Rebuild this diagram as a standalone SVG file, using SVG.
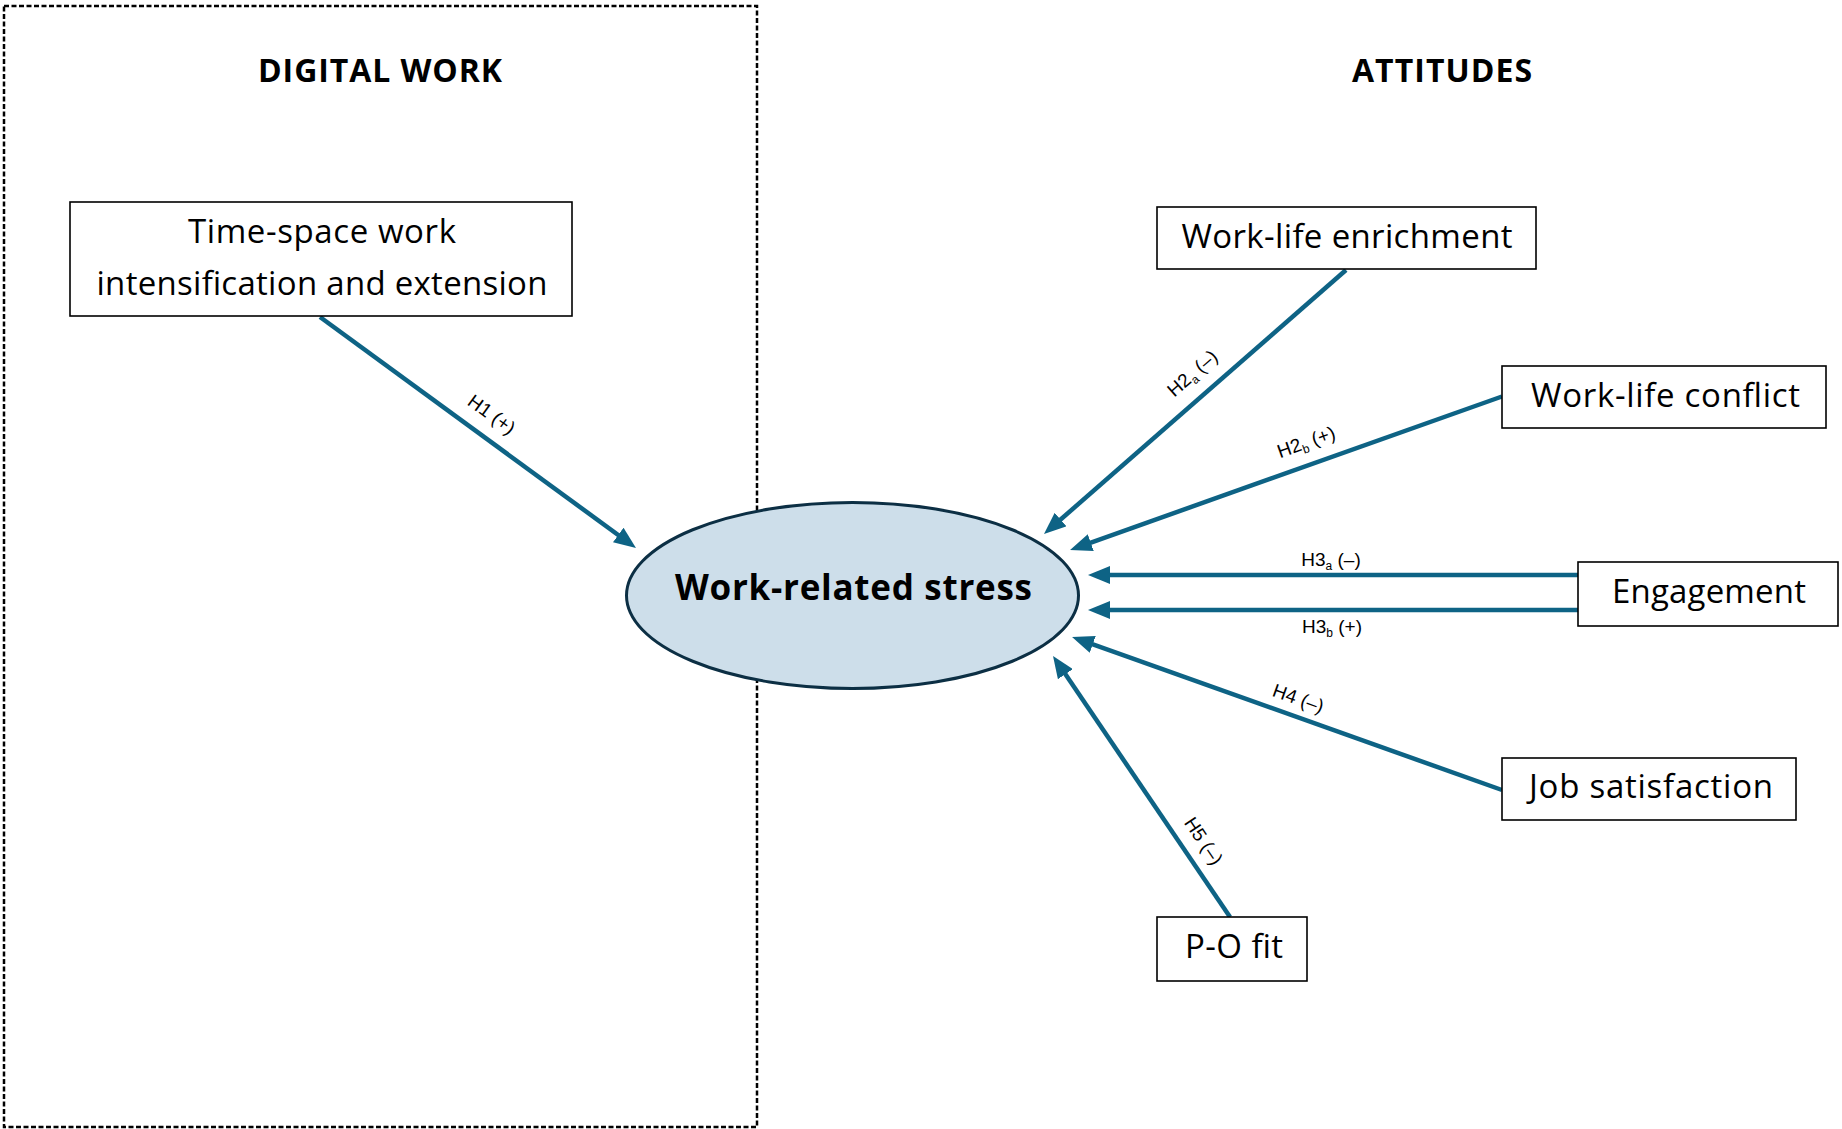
<svg xmlns="http://www.w3.org/2000/svg" width="1842" height="1129" viewBox="0 0 1842 1129">
<style>
.box{fill:#ffffff;stroke:#000000;stroke-width:1.6}
.lbl{font-family:"Open Sans","Liberation Sans",sans-serif;font-size:33px;fill:#000000;text-anchor:middle}
.ttl{font-family:"Open Sans","Liberation Sans",sans-serif;font-size:32px;font-weight:bold;fill:#000000;text-anchor:middle}
.conn{stroke:#0e6385;stroke-width:4.5;fill:none;marker-end:url(#ah)}
.hl{font-family:"Liberation Sans","Open Sans",sans-serif;font-size:19px;fill:#000000;text-anchor:middle}
.sub{font-size:12px}
</style>
<defs>
<marker id="ah" markerUnits="userSpaceOnUse" markerWidth="22" markerHeight="18" refX="11" refY="9" orient="auto">
<path d="M0,0 L22,9 L0,18 z" fill="#0e6385"/>
</marker>
</defs>
<rect width="1842" height="1129" fill="#ffffff"/>
<g id="digital-work-group">
<rect x="4" y="6" width="753" height="1121" fill="none" stroke="#000000" stroke-width="2.5" stroke-dasharray="5,2.5"/>
<text class="ttl" x="380" y="82" textLength="244">DIGITAL WORK</text>
</g>
<g id="attitudes-title">
<text class="ttl" x="1442" y="82" textLength="180">ATTITUDES</text>
</g>
<g id="connectors">
<line class="conn" x1="320" y1="317" x2="627.1" y2="541.5"/>
<line class="conn" x1="1346" y1="270" x2="1052.3" y2="526.8"/>
<line class="conn" x1="1502" y1="396.5" x2="1080.4" y2="546.3"/>
<line class="conn" x1="1578" y1="575" x2="1099" y2="575"/>
<line class="conn" x1="1578" y1="610" x2="1099" y2="610"/>
<line class="conn" x1="1502" y1="790" x2="1082.4" y2="640.7"/>
<line class="conn" x1="1230" y1="917" x2="1059.2" y2="665.1"/>
<text class="hl" transform="translate(492,414) rotate(36.2)" y="7">H1 (+)</text>
<text class="hl" transform="translate(1192,373) rotate(-41.2)" y="7">H2<tspan class="sub" dy="4">a</tspan><tspan dy="-4"> (–)</tspan></text>
<text class="hl" transform="translate(1306,441.5) rotate(-19.6)" y="7">H2<tspan class="sub" dy="4">b</tspan><tspan dy="-4"> (+)</tspan></text>
<text class="hl" x="1331" y="566">H3<tspan class="sub" dy="4">a</tspan><tspan dy="-4"> (–)</tspan></text>
<text class="hl" x="1332" y="633">H3<tspan class="sub" dy="4">b</tspan><tspan dy="-4"> (+)</tspan></text>
<text class="hl" transform="translate(1298.5,698) rotate(19.6)" y="7">H4 (–)</text>
<text class="hl" transform="translate(1204,840.6) rotate(55.9)" y="7">H5 (–)</text>
</g>
<g id="time-space">
<rect class="box" x="70" y="202" width="502" height="114"/>
<text class="lbl" x="322" y="243" textLength="268">Time-space work</text>
<text class="lbl" x="322" y="295" textLength="451">intensification and extension</text>
</g>
<g id="work-related-stress">
<ellipse cx="852.5" cy="595.5" rx="226" ry="93" fill="#cddeea" stroke="#0c2f44" stroke-width="3"/>
<text x="853.5" y="600" font-family="'Open Sans','Liberation Sans',sans-serif" font-size="35" font-weight="bold" text-anchor="middle" textLength="357">Work-related stress</text>
</g>
<g id="work-life-enrichment">
<rect class="box" x="1157" y="207" width="379" height="62"/>
<text class="lbl" x="1347" y="248" textLength="331">Work-life enrichment</text>
</g>
<g id="work-life-conflict">
<rect class="box" x="1502" y="366" width="324" height="62"/>
<text class="lbl" x="1665.5" y="407" textLength="269">Work-life conflict</text>
</g>
<g id="engagement">
<rect class="box" x="1578" y="562" width="260" height="64"/>
<text class="lbl" x="1709" y="603" textLength="194">Engagement</text>
</g>
<g id="job-satisfaction">
<rect class="box" x="1502" y="758" width="294" height="62"/>
<text class="lbl" x="1651" y="798" textLength="244">Job satisfaction</text>
</g>
<g id="po-fit">
<rect class="box" x="1157" y="917" width="150" height="64"/>
<text class="lbl" x="1234" y="958" textLength="98">P-O fit</text>
</g>
</svg>
